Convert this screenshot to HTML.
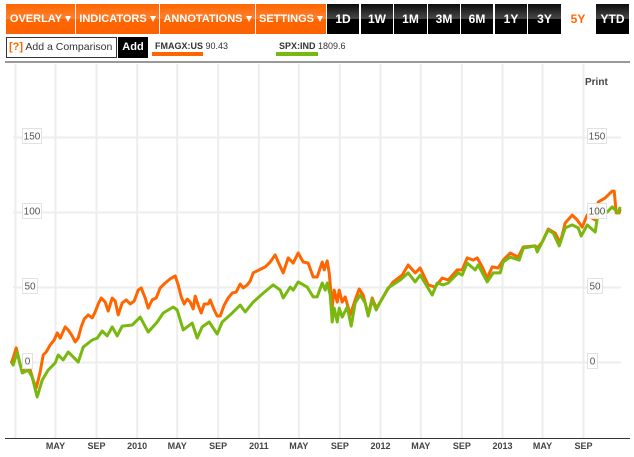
<!DOCTYPE html>
<html>
<head>
<meta charset="utf-8">
<style>
html,body{margin:0;padding:0;background:#fff;}
body{width:634px;height:457px;overflow:hidden;position:relative;font-family:"Liberation Sans",Arial,sans-serif;}
.btn{position:absolute;top:4px;height:30px;line-height:30px;text-align:center;font-weight:bold;color:#fff;box-sizing:border-box;white-space:nowrap;}
.o{background:linear-gradient(#ff6600 0%,#ff8030 49%,#ff6600 50%,#fb6200 100%);font-size:11px;}
.k{background:linear-gradient(#0c0c0c 0%,#484848 49%,#000 50%,#000 100%);font-size:12px;}
.arrow{display:inline-block;width:0;height:0;border-left:3.5px solid transparent;border-right:3.5px solid transparent;border-top:6px solid #fff;margin-left:3px;vertical-align:0;}
.abs{position:absolute;white-space:nowrap;}
</style>
</head>
<body>
<div class="btn o" style="left:6px;width:69px">OVERLAY<span class="arrow"></span></div>
<div class="btn o" style="left:76px;width:83px">INDICATORS<span class="arrow"></span></div>
<div class="btn o" style="left:160px;width:95px">ANNOTATIONS<span class="arrow"></span></div>
<div class="btn o" style="left:256px;width:70px">SETTINGS<span class="arrow"></span></div>
<div class="btn k" style="left:327px;width:32px">1D</div>
<div class="btn k" style="left:361px;width:32px">1W</div>
<div class="btn k" style="left:394px;width:33px">1M</div>
<div class="btn k" style="left:428px;width:32px">3M</div>
<div class="btn k" style="left:461px;width:32px">6M</div>
<div class="btn k" style="left:495px;width:32px">1Y</div>
<div class="btn k" style="left:528px;width:33px">3Y</div>
<div class="btn" style="left:561px;width:34px;color:#ff6600;font-size:12px">5Y</div>
<div class="btn k" style="left:596px;width:33px">YTD</div>

<div class="abs" style="left:6px;top:37px;width:111px;height:21px;box-sizing:border-box;border:1px solid #333;font-size:10.5px;line-height:19px;color:#333;padding-left:2px"><span style="color:#ff6600;font-weight:bold;font-size:11px">[?]</span> Add a Comparison</div>
<div class="abs" style="left:118px;top:37px;width:30px;height:21px;background:#000;color:#fff;font-weight:bold;font-size:11px;line-height:21px;text-align:center">Add</div>

<div class="abs" style="left:155px;top:40px;font-size:9px;line-height:12px;color:#333"><b>FMAGX:US</b> 90.43</div>
<div class="abs" style="left:152px;top:52px;width:51px;height:4px;background:#ff6600"></div>
<div class="abs" style="left:279px;top:40px;font-size:9px;line-height:12px;color:#333"><b>SPX:IND</b> 1809.6</div>
<div class="abs" style="left:276px;top:52px;width:42px;height:4px;background:#78b80f"></div>

<svg id="chart" width="634" height="457" style="position:absolute;left:0;top:0"></svg>

<script>
var tickDays = [0,120,243,365,485,608,730,850,973,1095,1216,1339,1461,1581,1704];
var tickLabels = ["","MAY","SEP","2010","MAY","SEP","2011","MAY","SEP","2012","MAY","SEP","2013","MAY","SEP"];
var yTicks = [0,50,100,150];
var fmagxDays = [-13,-7,2,8,14,26,44,53,62,68,74,83,92,104,116,125,134,149,158,170,179,188,197,206,218,230,239,248,257,269,278,290,299,308,320,332,344,356,368,377,389,398,410,422,434,449,464,479,488,497,506,515,524,533,539,548,557,566,578,584,596,605,614,626,638,650,662,674,683,695,704,713,731,749,764,779,788,803,818,833,848,863,878,893,905,920,926,935,941,950,956,965,971,980,989,1004,1019,1031,1043,1058,1070,1082,1094,1115,1133,1160,1178,1199,1214,1238,1259,1280,1298,1325,1340,1355,1373,1385,1400,1415,1430,1448,1463,1484,1508,1523,1559,1565,1580,1598,1619,1634,1649,1670,1685,1700,1715,1739,1748,1769,1790,1796,1802,1811,1814];
var fmagxValues = [-0.3,3,9.7,4.3,-1.7,-5.7,-5,-11.7,-17,-11.7,-6.3,5,7,11.7,15,19.7,16.3,23.7,21.7,17.7,13.7,16.3,23.7,29,31.7,29.7,33.7,39,43,40.3,34.3,43,41,31.7,39.7,41.7,39,41,48.3,49.7,43,36.3,41.7,43,49.7,53,55.7,57.7,51.7,43.7,39,42.3,40.3,35.7,44.3,38.3,33,39,39,41.7,35,31,31,38.3,43,46.3,47,52.3,49.7,51.7,54.3,59.7,61.7,63.7,67,71.7,67,59.7,69.7,66.3,73,67,66.3,57,57,67,61.7,67.7,59.7,37,48.3,40.3,48.3,40.3,43.7,31.7,41.7,49,45,31.7,43,36.3,40.3,48.3,53.7,58.3,65,59.7,63,51.7,50.3,56.3,55,61.7,61.7,69.7,68.3,69.7,63.7,56.3,63.7,63,68.3,73,70.3,77,77.7,76.3,80.3,89,86.3,79.7,93,98.3,95,90.3,98.3,95,107,109.7,114.3,114.3,99.7,99.7,102.3];
var spxDays = [-13,-7,5,20,38,50,65,80,98,119,128,143,158,173,188,203,230,245,260,275,290,305,320,350,374,398,425,443,473,485,503,530,545,560,581,605,620,644,674,689,713,743,773,794,803,824,833,848,875,893,905,920,929,935,944,950,956,965,971,980,995,1007,1019,1034,1049,1058,1070,1082,1094,1118,1154,1178,1199,1214,1250,1265,1283,1298,1328,1340,1355,1379,1388,1415,1433,1454,1463,1484,1511,1523,1559,1565,1598,1613,1631,1649,1670,1688,1697,1715,1739,1748,1775,1790,1808,1814];
var spxValues = [0.3,-1.7,7,-7,-5,-9.7,-23,-11.7,-5,-0.3,5,1.7,7,3.7,0.3,10.3,15,16.3,21,17.7,23.7,17.7,24.3,25,30.3,20.3,27,33,37,35,21.7,26.3,16.3,23.7,27,19,27,31.7,38.3,33.7,40.3,46.3,51.7,48.3,43,50.3,48.3,53.7,50.3,43.7,43.7,53,48.3,53,45,27,36.3,27,36.3,30.3,37,24.3,39.7,45,39.7,31,41.7,35,40.3,49.7,55,59.7,53.7,58.3,45,53,51.7,53,59.7,58.3,66.3,61.7,65,53.7,59.7,59.7,67,70.3,68.3,76.3,77.7,73.7,88.3,86.3,77.7,89.7,91.7,89.7,84.3,91.7,87,100.3,100.3,103.7,99.7,103.7];

var NS = 'http://www.w3.org/2000/svg';
var svg = document.getElementById('chart');
function xAxis(d){ return 15.5 + d / 3; }
function yAxis(v){ return 362.5 - v * 1.5; }
function make(tag, attrs, parent){
  var el = document.createElementNS(NS, tag);
  for (var k in attrs) el.setAttribute(k, attrs[k]);
  (parent || svg).appendChild(el);
  return el;
}

tickDays.forEach(function(d, i){
  var line = make('line', {x1:xAxis(d), x2:xAxis(d), y1:64, y2:438, stroke:'#ededed', 'stroke-width':2});
  
  
  if (tickLabels[i]) {
    var t = make('text', {x:xAxis(d), y:449, 'text-anchor':'middle', 'font-size':9, 'font-weight':'bold', fill:'#444', 'font-family':'"Liberation Sans",Arial,sans-serif'});
    t.textContent = tickLabels[i];
    
    
  }
});
yTicks.forEach(function(v){
  var line = make('line', {x1:13, x2:621, y1:yAxis(v), y2:yAxis(v), stroke:'#ededed', 'stroke-width':2});
  
  
});

var top0 = make('line', {x1:5, x2:630, y1:62, y2:62, stroke:'#333', 'stroke-width':1});


var bot0 = make('line', {x1:5, x2:630, y1:438.5, y2:438.5, stroke:'#333', 'stroke-width':1});



function points(days, values){
  return days.map(function(d, i){ return xAxis(d).toFixed(1) + ',' + yAxis(values[i]).toFixed(1); }).join(' ');
}
var lineA = make('polyline', {points:points(fmagxDays, fmagxValues), fill:'none', stroke:'#ff6600', 'stroke-width':3, 'stroke-linejoin':'round'});


var lineB = make('polyline', {points:points(spxDays, spxValues), fill:'none', stroke:'#78b80f', 'stroke-width':3, 'stroke-linejoin':'round'});



function yLabel(v, left){
  var s = String(v);
  var w = Math.round(s.length * 4.5 + 5.5);
  var g = make('g', {});
  
  
  make('rect', {x:left + 0.5, y:yAxis(v) - 9, width:w, height:15, fill:'#fff', 'fill-opacity':0.9, stroke:'#e2e2e2', 'stroke-width':1}, g);
  var t = make('text', {x:left + 0.5 + w / 2, y:yAxis(v) + 2, 'text-anchor':'middle', 'font-size':10, fill:'#555', 'font-family':'"Liberation Sans",Arial,sans-serif'}, g);
  t.textContent = s;
}
yTicks.forEach(function(v){ yLabel(v, 22); yLabel(v, 587); });

var print = make('text', {x:585, y:85, 'font-size':10, 'font-weight':'bold', fill:'#444', 'font-family':'"Liberation Sans",Arial,sans-serif'});
print.textContent = 'Print';


</script>
</body>
</html>
